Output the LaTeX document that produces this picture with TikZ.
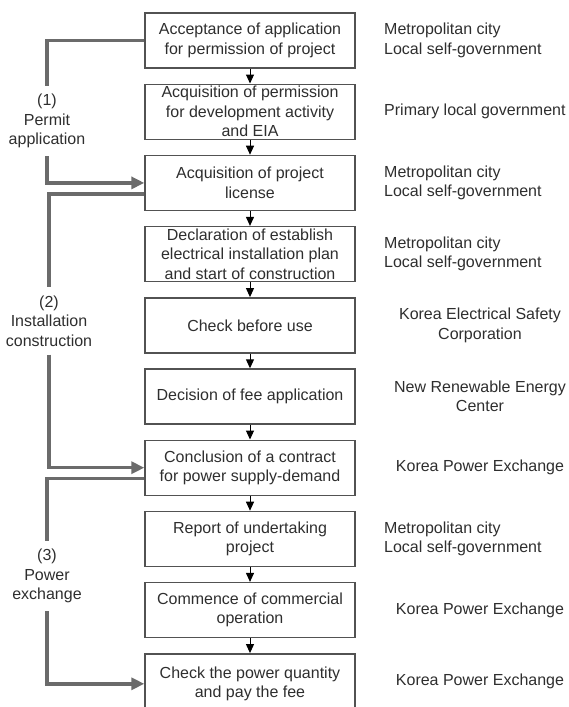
\documentclass[tikz,border=0pt]{standalone}
\usepackage{fontspec}
\setmainfont{Liberation Sans}
\usetikzlibrary{arrows.meta}
\begin{document}
\begin{tikzpicture}[x=1pt,y=-1pt,
  txt/.style={font=\fontsize{16}{19.5}\selectfont, text=black!82},
  box/.style={txt, draw=black!68, line width=1.4pt, minimum width=210pt, minimum height=55pt, align=center, inner sep=1pt},
  rlab/.style={txt, align=left, anchor=west, inner sep=0pt},
  rlabc/.style={txt, align=center, inner sep=0pt},
  llab/.style={txt, align=center, inner xsep=0pt, inner ysep=8pt},
  flow/.style={-{Triangle[length=9pt,width=8pt]}, line width=1pt, black},
  bracket/.style={line width=3.5pt, draw=black!58},
  bracketarrow/.style={bracket, -{Triangle[length=13pt,width=12pt]}, black!58}
]
\useasboundingbox (0,0) rectangle (569,707);

% main boxes
\node[box] (b1)  at (250,40.5)  {Acceptance of application\\for permission of project};
\node[box] (b2)  at (250,111.7) {Acquisition of permission\\for development activity\\and EIA};
\node[box] (b3)  at (250,182.9) {Acquisition of project\\license};
\node[box] (b4)  at (250,254.1) {Declaration of establish\\electrical installation plan\\and start of construction};
\node[box] (b5)  at (250,325.3) {Check before use};
\node[box] (b6)  at (250,396.5) {Decision of fee application};
\node[box] (b7)  at (250,467.7) {Conclusion of a contract\\for power supply-demand};
\node[box] (b8)  at (250,538.9) {Report of undertaking\\project};
\node[box] (b9)  at (250,610.1) {Commence of commercial\\operation};
\node[box, minimum height=60pt] (b10) at (250,683.8) {Check the power quantity\\and pay the fee};

% flow arrows between boxes
\foreach \a/\b in {b1/b2,b2/b3,b3/b4,b4/b5,b5/b6,b6/b7,b7/b8,b8/b9,b9/b10}
  \draw[flow] (\a.south) -- (\b.north);

% right labels
\node[rlab]  (r1)  at (384,40.5)  {Metropolitan city\\Local self-government};
\node[rlab]  (r2)  at (384,111.7) {Primary local government};
\node[rlab]  (r3)  at (384,182.9) {Metropolitan city\\Local self-government};
\node[rlab]  (r4)  at (384,254.1) {Metropolitan city\\Local self-government};
\node[rlabc] (r5)  at (480,325.3) {Korea Electrical Safety\\Corporation};
\node[rlabc] (r6)  at (480,396.5) {New Renewable Energy\\Center};
\node[rlabc] (r7)  at (480,467.7) {Korea Power Exchange};
\node[rlab]  (r8)  at (384,538.9) {Metropolitan city\\Local self-government};
\node[rlabc] (r9)  at (480,610.1) {Korea Power Exchange};
\node[rlabc] (r10) at (480,681.3) {Korea Power Exchange};

% left stage labels
\node[llab] (l1) at (47,121)  {(1)\\Permit\\application};
\node[llab] (l2) at (49,321)  {(2)\\Installation\\construction};
\node[llab] (l3) at (47,576)  {(3)\\Power\\exchange};

% brackets
\draw[bracket] (b1.west) -| (l1.north);
\draw[bracketarrow] (l1.south) |- (b3.west);
\draw[bracket] ([yshift=-11pt]b3.west) -| (l2.north);
\draw[bracketarrow] (l2.south) |- (b7.west);
\draw[bracket] ([yshift=-11pt]b7.west) -| (l3.north);
\draw[bracketarrow] (l3.south) |- (b10.west);
\end{tikzpicture}
\end{document}
